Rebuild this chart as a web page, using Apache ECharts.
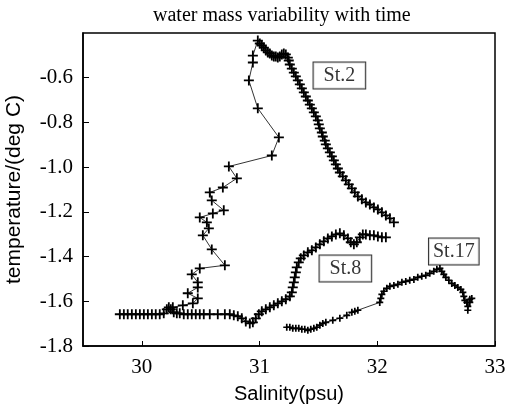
<!DOCTYPE html>
<html><head><meta charset="utf-8">
<script src="https://cdn.jsdelivr.net/npm/echarts@6/dist/echarts.min.js"></script>
<style>html,body{margin:0;padding:0;background:#fff}#c{width:505px;height:404px}</style>
</head><body><div id="c"></div>
<script>
// [salinity (psu), temperature (deg C)]
const st2 = [
 [30.263,-1.627],[30.348,-1.618],[30.433,-1.609],[30.475,-1.587],[30.390,-1.564],[30.475,-1.538],
 [30.475,-1.515],[30.424,-1.480],[30.492,-1.453],[30.705,-1.439],[30.594,-1.368],[30.518,-1.305],
 [30.569,-1.274],[30.552,-1.247],[30.492,-1.225],[30.603,-1.207],[30.696,-1.193],[30.594,-1.149],
 [30.577,-1.113],[30.688,-1.091],[30.807,-1.050],[30.739,-0.997],[31.104,-0.948],[31.164,-0.867],
 [30.985,-0.737],[30.909,-0.612],[30.943,-0.532],[30.943,-0.501],[30.985,-0.434],
 [31.002,-0.447],[31.019,-0.456],[31.036,-0.465],[31.053,-0.478],[31.070,-0.487],[31.087,-0.492],
 [31.104,-0.501],[31.121,-0.505],[31.138,-0.505],[31.155,-0.510],[31.172,-0.505],[31.189,-0.496],
 [31.206,-0.492],[31.223,-0.496],[31.240,-0.510],[31.248,-0.523],[31.257,-0.541],[31.274,-0.559],
 [31.291,-0.577],[31.308,-0.594],[31.325,-0.612],[31.342,-0.630],[31.359,-0.648],[31.376,-0.666],
 [31.393,-0.684],[31.410,-0.702],[31.427,-0.720],[31.444,-0.737],[31.461,-0.755],[31.478,-0.773],
 [31.495,-0.791],[31.503,-0.809],[31.512,-0.827],[31.529,-0.845],[31.537,-0.863],[31.554,-0.881],
 [31.563,-0.898],[31.580,-0.916],[31.597,-0.934],[31.614,-0.952],[31.631,-0.970],[31.648,-0.988],
 [31.665,-1.006],[31.682,-1.024],[31.707,-1.041],[31.733,-1.059],[31.758,-1.077],[31.784,-1.095],
 [31.809,-1.113],[31.835,-1.131],[31.869,-1.144],[31.903,-1.158],[31.937,-1.167],[31.971,-1.180],
 [32.005,-1.189],[32.039,-1.202],[32.073,-1.216],[32.107,-1.229],[32.141,-1.247]
];
const st8 = [
 [29.813,-1.658],[29.847,-1.658],[29.880,-1.658],[29.915,-1.658],[29.949,-1.658],[29.983,-1.658],
 [30.017,-1.658],[30.051,-1.658],[30.085,-1.658],[30.118,-1.658],[30.152,-1.658],[30.186,-1.654],
 [30.212,-1.636],[30.229,-1.627],[30.246,-1.636],[30.271,-1.649],[30.297,-1.654],[30.322,-1.654],
 [30.356,-1.658],[30.390,-1.658],[30.424,-1.658],[30.458,-1.658],[30.492,-1.658],[30.526,-1.658],
 [30.577,-1.658],[30.645,-1.658],[30.705,-1.658],[30.747,-1.658],[30.781,-1.663],[30.815,-1.667],
 [30.849,-1.676],[30.883,-1.690],[30.917,-1.699],[30.943,-1.694],[30.968,-1.676],[30.994,-1.658],
 [31.019,-1.645],[31.053,-1.636],[31.087,-1.627],[31.121,-1.618],[31.155,-1.609],[31.189,-1.600],
 [31.223,-1.591],[31.257,-1.578],[31.274,-1.560],[31.282,-1.538],[31.291,-1.515],[31.299,-1.493],
 [31.308,-1.471],[31.316,-1.448],[31.333,-1.426],[31.350,-1.408],[31.376,-1.395],[31.410,-1.381],
 [31.444,-1.372],[31.478,-1.359],[31.512,-1.345],[31.546,-1.332],[31.580,-1.319],[31.614,-1.310],
 [31.648,-1.301],[31.682,-1.296],[31.716,-1.305],[31.750,-1.319],[31.775,-1.336],[31.801,-1.345],
 [31.826,-1.336],[31.852,-1.314],[31.877,-1.301],[31.903,-1.301],[31.937,-1.305],[31.971,-1.305],
 [32.005,-1.310],[32.039,-1.314],[32.073,-1.314]
];
const st17 = [
 [31.231,-1.716],[31.257,-1.716],[31.282,-1.721],[31.308,-1.721],[31.333,-1.721],[31.359,-1.725],
 [31.384,-1.725],[31.410,-1.730],[31.435,-1.725],[31.461,-1.721],[31.486,-1.716],[31.512,-1.707],
 [31.537,-1.699],[31.563,-1.694],[31.622,-1.685],[31.682,-1.676],[31.741,-1.663],[31.784,-1.649],
 [31.809,-1.645],[31.835,-1.640],[32.021,-1.605],[32.030,-1.587],[32.039,-1.569],[32.056,-1.555],
 [32.081,-1.542],[32.107,-1.533],[32.141,-1.529],[32.175,-1.524],[32.209,-1.515],[32.242,-1.511],
 [32.276,-1.506],[32.311,-1.502],[32.344,-1.493],[32.378,-1.488],[32.412,-1.484],[32.446,-1.475],
 [32.480,-1.466],[32.506,-1.457],[32.532,-1.453],[32.548,-1.466],[32.565,-1.480],[32.582,-1.493],
 [32.608,-1.506],[32.633,-1.520],[32.659,-1.529],[32.684,-1.538],[32.710,-1.547],[32.727,-1.560],
 [32.735,-1.578],[32.744,-1.596],[32.761,-1.605],[32.786,-1.591],[32.803,-1.587],[32.786,-1.605],
 [32.769,-1.623],[32.769,-1.640]
];
const xTicks = [30, 31, 32, 33];
const yTicks = [-1.8, -1.6, -1.4, -1.2, -1.0, -0.8, -0.6];
const stationNames = ['St.2', 'St.8', 'St.17'];
const stationAnchors = [[31.678, -0.590], [31.729, -1.453], [32.650, -1.377]];

const plusMid = 'path://M4.1,0H5.9V4.1H10V5.9H5.9V10H4.1V5.9H0V4.1H4.1Z';
const plusBold = 'path://M3.8,0H6.2V3.8H10V6.2H6.2V10H3.8V6.2H0V3.8H3.8Z';
const labelPads = [[3, 10, 1, 10], [3, 10, 1, 10], [3, 4, 1, 4]];
function lineSeries(name, data, sym, size) {
  return {
    type: 'line', name: name, data: data, symbol: sym, symbolSize: size,
    showAllSymbol: true, silent: true, z: 2,
    lineStyle: { color: '#000', width: 0.8 },
    itemStyle: { color: '#000' }
  };
}
const serif = 'Liberation Serif, Times New Roman, serif';
const sans = 'Liberation Sans, Arial, sans-serif';
const chart = echarts.init(document.getElementById('c'), null, { renderer: 'canvas' });
chart.setOption({
  animation: false,
  backgroundColor: '#fff',
  title: {
    text: 'water mass variability with time', left: 153, top: 6, padding: 0,
    textStyle: { fontFamily: serif, fontSize: 20, fontWeight: 'normal', color: '#000' }
  },
  grid: { left: 83, right: 10, top: 33, bottom: 58, show: true, borderColor: '#000', borderWidth: 1.5,
    outerBoundsMode: 'none', containLabel: false },
  xAxis: {
    type: 'value', min: 29.5, max: 33,
    axisLine: { lineStyle: { color: '#000', width: 1.5 } },
    axisTick: { inside: true, length: 5, customValues: xTicks, lineStyle: { color: '#000', width: 1 } },
    axisLabel: { customValues: xTicks, fontFamily: serif, fontSize: 21, color: '#000', margin: 11,
      formatter: v => String(v) },
    splitLine: { show: false },
    name: 'Salinity(psu)', nameLocation: 'middle', nameGap: 38,
    nameTextStyle: { fontFamily: sans, fontSize: 20, color: '#000' }
  },
  yAxis: {
    type: 'value', min: -1.8, max: -0.4,
    axisLine: { lineStyle: { color: '#000', width: 1.5 } },
    axisTick: { inside: true, length: 6, customValues: yTicks, lineStyle: { color: '#000', width: 1 } },
    axisLabel: { customValues: yTicks, fontFamily: serif, fontSize: 21, color: '#000', margin: 10,
      formatter: v => v.toFixed(1) },
    splitLine: { show: false },
    name: 'temperature/(deg C)', nameLocation: 'middle', nameGap: 58,
    nameTextStyle: { fontFamily: sans, fontSize: 21, color: '#000' }
  },
  series: [
    lineSeries('St.2', st2, plusMid, 10),
    lineSeries('St.8', st8, plusMid, 10),
    lineSeries('St.17', st17, plusBold, 7),
    {
      type: 'scatter', silent: true, z: 5, symbolSize: 0,
      data: stationAnchors.map((p, i) => ({
        value: p, name: stationNames[i],
        label: { padding: labelPads[i] }
      })),
      label: {
        show: true, position: 'inside', formatter: p => p.name,
        fontFamily: serif, fontSize: 20, color: '#000', align: 'center',
        backgroundColor: '#fff', borderColor: '#000', borderWidth: 1,
        lineHeight: 22
      }
    }
  ]
});
</script></body></html>
